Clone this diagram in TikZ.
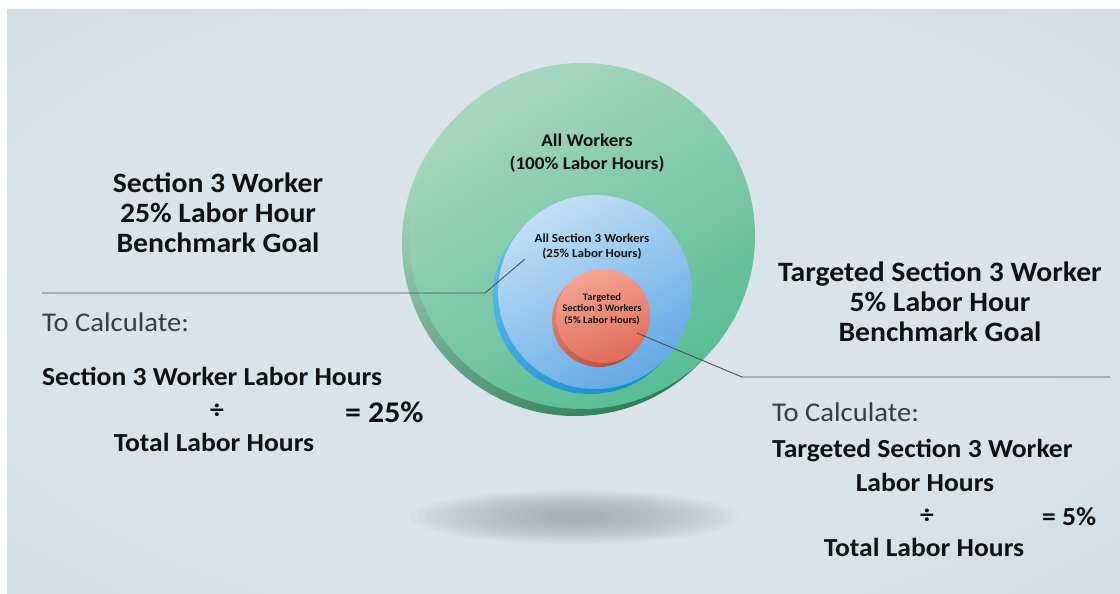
\documentclass[tikz,border=0pt]{standalone}
\usepackage{fontspec}
\setmainfont{Carlito}[FakeStretch=1.06]

\definecolor{bgmid}{HTML}{D9E3E8}
\definecolor{bgsoft}{HTML}{CFDAE1}
\definecolor{bgedge}{HTML}{B0BECB}
\definecolor{bgcorner}{HTML}{91A2B4}
\definecolor{shadowc}{HTML}{959EA6}
\definecolor{greenFaceTop}{HTML}{A8D6BF}
\definecolor{greenFaceBot}{HTML}{58BD96}
\definecolor{greenRimTop}{HTML}{B4DAC8}
\definecolor{greenRimBot}{HTML}{2E7C5A}
\definecolor{blueFaceTop}{HTML}{C2DFF4}
\definecolor{blueFaceBot}{HTML}{62A9E5}
\definecolor{blueRimTop}{HTML}{5FC0EE}
\definecolor{blueRimBot}{HTML}{1B8CD0}
\definecolor{redFaceTop}{HTML}{F4A592}
\definecolor{redFaceBot}{HTML}{DF6C59}
\definecolor{redRimTop}{HTML}{E58B78}
\definecolor{redRimBot}{HTML}{B94C3C}
\definecolor{inkc}{HTML}{111111}
\definecolor{notec}{HTML}{3A3C3E}
\definecolor{leadc}{HTML}{4A5057}

% soft vignette for the backdrop
\pgfdeclareradialshading{bgglow}{\pgfpointorigin}{%
  color(0bp)=(bgmid); color(22bp)=(bgmid); color(40bp)=(bgsoft);
  color(52bp)=(bgedge); color(71bp)=(bgcorner); color(80bp)=(bgcorner)}

\tikzset{
  ink/.style={text=inkc, inner sep=0pt},
  head/.style={ink, font=\bfseries\fontsize{28}{30}\selectfont, align=center, anchor=base},
  calcline/.style={ink, font=\bfseries\fontsize{26}{28}\selectfont, anchor=base},
  note/.style={text=notec, inner sep=0pt, font=\fontsize{27}{29}\selectfont, anchor=base west},
  disclabel/.style={ink, align=center, anchor=base},
  lead/.style={draw=leadc, line width=0.9pt, line join=miter},
  puddlelayer/.style={fill=shadowc, fill opacity=0.05},
}

\begin{document}
\begin{tikzpicture}[x=1pt, y=-1pt]
  \useasboundingbox (0,0) rectangle (1120,594);
  \fill[white] (0,0) rectangle (1120,594);
  \shade[shading=bgglow] (7,10) rectangle (1120,594);

  % soft floor shadow, built from stacked translucent ellipses
  \foreach \k in {0,...,19}
    \path[puddlelayer] (575,517) ellipse [x radius={165-7.6*\k}, y radius={27-1.15*\k}];

  % outer disc: all workers
  \shade[top color=greenRimTop, bottom color=greenRimBot, shading angle=35]
    (575,243) circle [radius=173];
  \shade[top color=greenFaceTop, bottom color=greenFaceBot, shading angle=30]
    (582,236) circle [radius=173];

  % middle disc: section 3 workers
  \shade[top color=blueRimTop, bottom color=blueRimBot, shading angle=35]
    (590,297) circle [radius=97];
  \shade[top color=blueFaceTop, bottom color=blueFaceBot, shading angle=30]
    (595,292) circle [radius=97];

  % inner disc: targeted section 3 workers
  \shade[top color=redRimTop, bottom color=redRimBot, shading angle=35]
    (599,320) circle [radius=47];
  \shade[top color=redFaceTop, bottom color=redFaceBot, shading angle=20]
    (603,316) circle [radius=47];

  % disc labels (base = last line)
  \node[disclabel, font=\bfseries\fontsize{18}{23}\selectfont] (allw) at (587,169)
    {All Workers\\(100\% Labor Hours)};
  \node[disclabel, font=\bfseries\fontsize{12.3}{15}\selectfont] (secw) at (592,257)
    {All Section 3 Workers\\(25\% Labor Hours)};
  \node[disclabel, font=\bfseries\fontsize{10}{11.5}\selectfont] (tgtw) at (602,323)
    {Targeted\\Section 3 Workers\\(5\% Labor Hours)};

  % left column
  \node[head] (goal25) at (218,252) {Section 3 Worker\\25\% Labor Hour\\Benchmark Goal};
  \node[note] (calcL) at (42,331) {To Calculate:};
  \node[calcline, anchor=base west] (numL) at (42,385) {Section 3 Worker Labor Hours};
  \node[calcline] (divL) at (217,418) {÷};
  \node[ink, font=\bfseries\fontsize{30}{32}\selectfont, anchor=base west] (eqL) at (345,422) {= 25\%};
  \node[calcline] (denL) at (214,451) {Total Labor Hours};

  % right column
  \node[head] (goal5) at (940,341) {Targeted Section 3 Worker\\5\% Labor Hour\\Benchmark Goal};
  \node[note] (calcR) at (772,421) {To Calculate:};
  \node[calcline, anchor=base west] (numR1) at (772,457) {Targeted Section 3 Worker};
  \node[calcline] (numR2) at (925,491) {Labor Hours};
  \node[calcline] (divR) at (927,523) {÷};
  \node[calcline, anchor=base west] (eqR) at (1042,525) {= 5\%};
  \node[calcline] (denR) at (924,556) {Total Labor Hours};

  % leader lines
  \coordinate (lA) at (42,293);
  \coordinate (lB) at (485,293);
  \coordinate (lC) at (525,259);
  \draw[lead] (lA) -- (lB) -- (lC);
  \coordinate (rA) at (637,333);
  \coordinate (rB) at (742,377);
  \coordinate (rC) at (1110,377);
  \draw[lead] (rA) -- (rB) -- (rC);
\end{tikzpicture}
\end{document}
